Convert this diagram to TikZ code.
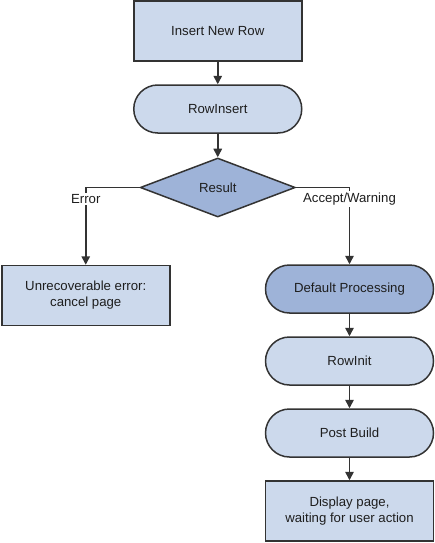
\documentclass[tikz,border=0pt]{standalone}
\usepackage{fontspec}
\setmainfont{Liberation Sans}
\usetikzlibrary{arrows.meta,shapes.geometric}
\definecolor{lightfill}{RGB}{204,217,236}
\definecolor{darkfill}{RGB}{158,179,216}
\definecolor{edgecol}{RGB}{51,51,51}
\definecolor{textcol}{RGB}{30,30,30}
\begin{document}
\begin{tikzpicture}[x=1pt,y=-1pt,
  box/.style={draw=edgecol,line width=1.5pt,fill=lightfill,minimum width=168pt,minimum height=60pt,inner sep=0pt,align=center,text=textcol,font=\fontsize{13.2}{16}\selectfont},
  pill/.style={box,rounded corners=24pt,minimum height=48pt},
  dec/.style={diamond,draw=edgecol,line width=1.5pt,fill=darkfill,minimum width=155pt,minimum height=59pt,inner sep=0pt,text=textcol,font=\fontsize{13.2}{16}\selectfont},
  arr/.style={draw=edgecol,line width=1.5pt,-{Triangle[length=8.5pt,width=8.5pt]}},
  lbl/.style={fill=white,inner sep=1.5pt,text=textcol,font=\fontsize{13.2}{16}\selectfont}]
\useasboundingbox (0,0) rectangle (435,543);
\node[box] (ins) at (217.75,31.25) {Insert New Row};
\node[pill] (rowins) at (217.75,109) {RowInsert};
\node[dec] (res) at (217.75,187.5) {Result};
\node[box] (err) at (85.75,295.5) {Unrecoverable error:\\cancel page};
\node[pill,fill=darkfill] (def) at (349.5,289) {Default Processing};
\node[pill] (rinit) at (349.5,361) {RowInit};
\node[pill] (post) at (349.5,433) {Post Build};
\node[box] (disp) at (349.5,511) {Display page,\\waiting for user action};
\draw[arr] (ins) -- (rowins);
\draw[arr] (rowins) -- (res);
\draw[arr] (res.west) -| (err.north);
\draw[arr] (res.east) -| (def.north);
\draw[arr] (def) -- (rinit);
\draw[arr] (rinit) -- (post);
\draw[arr] (post) -- (disp);
\node[lbl] (errl) at (85.75,199) {Error};
\node[lbl] (accl) at (349.5,199) {Accept/Warning};
\end{tikzpicture}
\end{document}
